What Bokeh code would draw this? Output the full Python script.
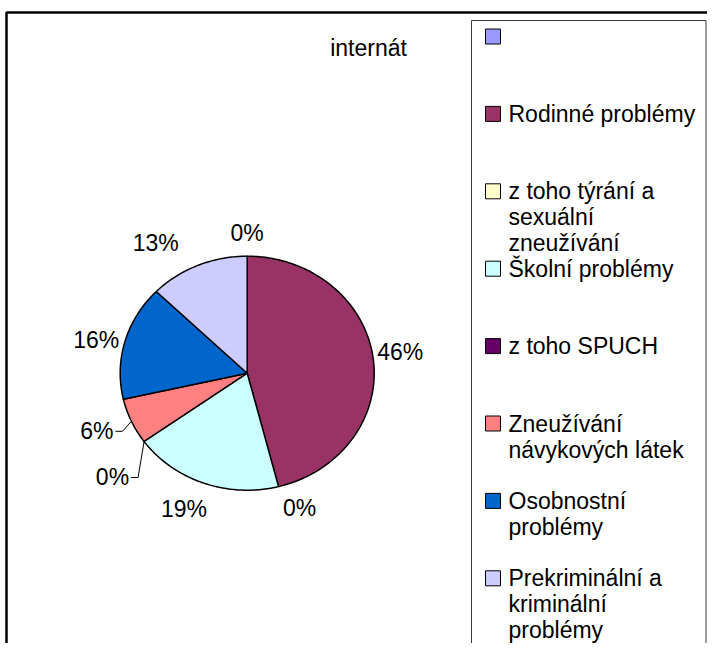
import numpy as np
from bokeh.plotting import figure
from bokeh.models import Range1d, ColumnDataSource
from bokeh.core.properties import value
from bokeh.embed import file_html
from bokeh.resources import INLINE

# ---------------- data ----------------
title = "internát"
categories = [
    "",
    "Rodinné problémy",
    "z toho týrání a\nsexuální\nzneužívání",
    "Školní problémy",
    "z toho SPUCH",
    "Zneužívání\nnávykových látek",
    "Osobnostní\nproblémy",
    "Prekriminální a\nkriminální\nproblémy",
]
counts = [0, 29, 0, 12, 0, 4, 10, 8]
colors = ["#9999FF", "#993366", "#FFFFCC", "#CCFFFF", "#660066", "#FF8080", "#0066CC", "#CCCCFF"]

# ---------------- layout ----------------
W, H = 707, 643
FONT = value("Liberation Sans")
FS = "23px"


def X(px):
    return px


def Y(py):
    return H - py


p = figure(width=W, height=H, x_range=Range1d(0, W), y_range=Range1d(0, H),
           output_backend="svg", toolbar_location=None,
           x_axis_type=None, y_axis_type=None, min_border=0,
           outline_line_color=None, background_fill_color="white")
p.xgrid.visible = False
p.ygrid.visible = False

# outer chart frame and legend frame
p.multi_line(xs=[[X(6), X(6), X(760)]], ys=[[Y(700), Y(12), Y(12)]],
             line_color="black", line_width=2.5)
p.multi_line(xs=[[X(471), X(471), X(705.5), X(705.5)]], ys=[[Y(700), Y(20), Y(20), Y(700)]],
             line_color="#3a3a3a", line_width=1)

# pie (slightly elliptical, clockwise from 12 o'clock)
cx, cy = X(246.7), Y(372.7)
rx, ry = 127.0, 117.0
fr = np.array(counts, dtype=float) / sum(counts)
cum = np.concatenate([[0.0], np.cumsum(fr)])

pxs, pys, pcol = [], [], []
for i, (a, b) in enumerate(zip(cum[:-1], cum[1:])):
    if b - a <= 0:
        continue
    t = np.linspace(a, b, int((b - a) * 400) + 3) * 2 * np.pi
    pxs.append([cx] + list(cx + rx * np.sin(t)))
    pys.append([cy] + list(cy + ry * np.cos(t)))
    pcol.append(colors[i])
p.patches(xs="xs", ys="ys", fill_color="c",
          source=ColumnDataSource(dict(xs=pxs, ys=pys, c=pcol)),
          line_color="black", line_width=1.5, line_join="round")

# percentage labels
pct = [f"{int(round(f * 100))}%" for f in fr]
nudge = [(0, 2), (-4, 6), (19, -1), (6, -5), None, None, (2, -1), (-16, 2)]
leader_off = {4: (-15, -36), 5: (-18, -10)}
lx, ly, lt, la, lb = [], [], [], [], []
lead_x, lead_y = [], []
d = 8
for i in range(len(counts)):
    mid = (cum[i] + cum[i + 1]) / 2 * 2 * np.pi
    s, c = np.sin(mid), np.cos(mid)
    if i in leader_off:
        ex, ey = cx + rx * s, cy + ry * c
        ox, oy = leader_off[i]
        tx, ty = ex + ox, ey + oy
        lx.append(tx); ly.append(ty); lt.append(pct[i]); la.append("right"); lb.append("middle")
        lead_x.append([tx + 2, tx + 9, ex])
        lead_y.append([ty, ty, ey])
        continue
    tx = cx + (rx + d) * s + nudge[i][0]
    ty = cy + (ry + d) * c + nudge[i][1]
    align = "left" if s > 0.3 else ("right" if s < -0.3 else "center")
    base = "bottom" if c > 0.5 else ("top" if c < -0.5 else "middle")
    lx.append(tx); ly.append(ty); lt.append(pct[i]); la.append(align); lb.append(base)

p.multi_line(xs=lead_x, ys=lead_y, line_color="black", line_width=1)
p.text(x="x", y="y", text="t", text_align="a", text_baseline="b",
       source=ColumnDataSource(dict(x=lx, y=ly, t=lt, a=la, b=lb)),
       text_font=FONT, text_font_size=FS, text_color="black")

# title
p.text(x=[X(368)], y=[Y(47)], text=[title], text_align="center", text_baseline="middle",
       text_font=FONT, text_font_size=FS, text_color="black")

# legend
top0, pitch, line_h = 36, 77.4, 26
sq = 15
ql, qr, qt, qb, qc = [], [], [], [], []
tx_, ty_, tt_ = [], [], []
for i, lab in enumerate(categories):
    yc = top0 + pitch * i
    ql.append(X(485)); qr.append(X(485 + sq))
    qt.append(Y(yc - sq / 2)); qb.append(Y(yc + sq / 2)); qc.append(colors[i])
    for j, ln in enumerate(lab.split("\n")):
        if ln:
            tx_.append(X(508)); ty_.append(Y(yc + j * line_h)); tt_.append(ln)
p.quad(left="l", right="r", top="t", bottom="b", fill_color="c",
       source=ColumnDataSource(dict(l=ql, r=qr, t=qt, b=qb, c=qc)),
       line_color="black", line_width=1)
p.text(x="x", y="y", text="t", source=ColumnDataSource(dict(x=tx_, y=ty_, t=tt_)),
       text_align="left", text_baseline="middle",
       text_font=FONT, text_font_size=FS, text_color="black")

open("out.html", "w").write(file_html(p, INLINE))
